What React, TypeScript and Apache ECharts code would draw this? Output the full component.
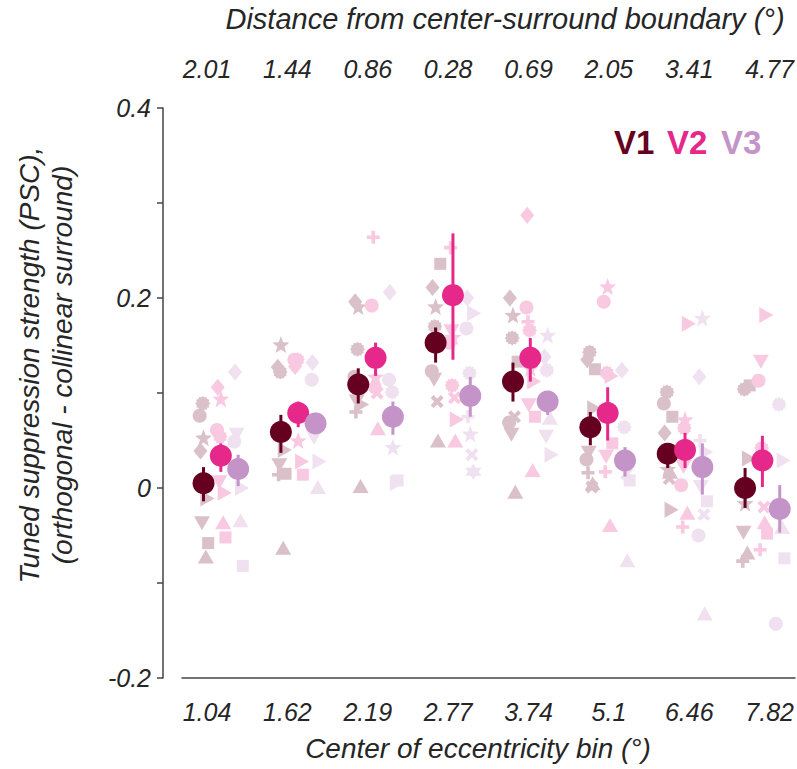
import React, { useEffect, useRef } from "react";
import * as echarts from "echarts";

// ---------- data ----------
const bottomLabels = ["1.04", "1.62", "2.19", "2.77", "3.74", "5.1", "6.46", "7.82"];
const topLabels = ["2.01", "1.44", "0.86", "0.28", "0.69", "2.05", "3.41", "4.77"];
const areaNames = ["V1", "V2", "V3"];

const v1Mean = [0.005, 0.059, 0.109, 0.153, 0.112, 0.064, 0.036, 0.0];
const v1Lo = [-0.014, 0.037, 0.089, 0.132, 0.091, 0.045, 0.021, -0.021];
const v1Hi = [0.022, 0.077, 0.126, 0.169, 0.132, 0.08, 0.047, 0.021];

const v2Mean = [0.034, 0.079, 0.137, 0.203, 0.137, 0.079, 0.04, 0.029];
const v2Lo = [0.017, 0.064, 0.118, 0.135, 0.112, 0.05, 0.021, 0.001];
const v2Hi = [0.047, 0.091, 0.153, 0.268, 0.158, 0.106, 0.058, 0.055];

const v3Mean = [0.02, 0.068, 0.075, 0.097, 0.091, 0.029, 0.022, -0.022];
const v3Lo = [0.002, 0.058, 0.056, 0.075, 0.077, 0.012, -0.007, -0.047];
const v3Hi = [0.035, 0.079, 0.091, 0.117, 0.101, 0.043, 0.047, 0.003];

// individual subjects: [bin, value, subjectSymbol]
// symbols: 0 circle,1 square,2 diamond,3 tri-up,4 tri-down,5 tri-right,6 star,7 hexagram,8 plus,9 x,10 gear
const v1Subjects: [number, number, number][] = [
  [0, 0.076, 0], [0, 0.089, 10], [0, 0.053, 6], [0, 0.039, 2], [0, -0.037, 4], [0, -0.058, 1], [0, -0.072, 3], [0, -0.011, 5],
  [1, 0.151, 6], [1, 0.127, 2], [1, 0.122, 10], [1, 0.04, 5], [1, 0.024, 4], [1, 0.014, 8], [1, 0.015, 1], [1, -0.063, 3],
  [2, 0.196, 2], [2, 0.191, 6], [2, 0.146, 10], [2, 0.117, 0], [2, 0.091, 4], [2, 0.088, 5], [2, 0.08, 8], [2, 0.002, 3],
  [3, 0.236, 1], [3, 0.211, 2], [3, 0.191, 6], [3, 0.17, 10], [3, 0.123, 0], [3, 0.114, 4], [3, 0.091, 9], [3, 0.05, 3],
  [4, 0.2, 2], [4, 0.182, 6], [4, 0.158, 10], [4, 0.133, 1], [4, 0.075, 9], [4, 0.069, 0], [4, 0.056, 4], [4, -0.004, 3],
  [5, 0.143, 10], [5, 0.135, 2], [5, 0.125, 1], [5, 0.084, 5], [5, 0.037, 4], [5, 0.03, 0], [5, 0.016, 8], [5, 0.005, 3], [5, 0.001, 9],
  [6, 0.101, 10], [6, 0.089, 0], [6, 0.075, 1], [6, 0.058, 2], [6, 0.02, 6], [6, 0.017, 3], [6, 0.01, 9], [6, -0.023, 5],
  [7, 0.108, 1], [7, 0.104, 10], [7, 0.031, 5], [7, -0.016, 6], [7, -0.047, 4], [7, -0.068, 3], [7, -0.077, 8],
];
const v2Subjects: [number, number, number][] = [
  [0, 0.106, 2], [0, 0.094, 6], [0, 0.061, 0], [0, 0.054, 10], [0, 0.006, 4], [0, -0.005, 5], [0, -0.036, 3], [0, -0.052, 1],
  [1, 0.135, 10], [1, 0.128, 2], [1, 0.135, 0], [1, 0.05, 6], [1, 0.028, 5], [1, 0.014, 1],
  [2, 0.264, 8], [2, 0.192, 0], [2, 0.117, 6], [2, 0.106, 10], [2, 0.1, 9], [2, 0.063, 3],
  [3, 0.253, 8], [3, 0.165, 4], [3, 0.159, 6], [3, 0.153, 0], [3, 0.108, 10], [3, 0.095, 9], [3, 0.072, 5], [3, 0.05, 3],
  [4, 0.287, 2], [4, 0.19, 0], [4, 0.175, 8], [4, 0.166, 10], [4, 0.126, 6], [4, 0.112, 5], [4, 0.087, 4], [4, 0.075, 1], [4, 0.019, 3],
  [5, 0.212, 6], [5, 0.196, 0], [5, 0.121, 10], [5, 0.118, 5], [5, 0.047, 1], [5, 0.033, 4], [5, 0.017, 8], [5, -0.039, 3],
  [6, 0.173, 5], [6, 0.072, 6], [6, 0.063, 10], [6, 0.022, 4], [6, 0.003, 0], [6, -0.026, 3], [6, -0.041, 8],
  [7, 0.182, 5], [7, 0.133, 4], [7, 0.113, 0], [7, 0.042, 10], [7, -0.02, 9], [7, -0.036, 3], [7, -0.048, 1], [7, -0.065, 8],
];
const v3Subjects: [number, number, number][] = [
  [0, 0.122, 2], [0, 0.056, 4], [0, 0.049, 0], [0, 0.0, 5], [0, -0.034, 3], [0, -0.082, 1],
  [1, 0.132, 2], [1, 0.114, 0], [1, 0.053, 4], [1, 0.028, 5], [1, 0.001, 3],
  [2, 0.206, 2], [2, 0.114, 0], [2, 0.101, 10], [2, 0.043, 6], [2, 0.008, 1], [2, 0.005, 5],
  [3, 0.2, 2], [3, 0.184, 5], [3, 0.168, 0], [3, 0.121, 10], [3, 0.075, 8], [3, 0.057, 6], [3, 0.035, 9], [3, 0.017, 7],
  [4, 0.161, 6], [4, 0.138, 2], [4, 0.124, 10], [4, 0.074, 3], [4, 0.054, 4], [4, 0.035, 5],
  [5, 0.124, 2], [5, 0.064, 10], [5, 0.015, 9], [5, 0.008, 1], [5, -0.076, 3],
  [6, 0.179, 6], [6, 0.117, 2], [6, 0.05, 8], [6, 0.038, 5], [6, 0.001, 4], [6, -0.014, 1], [6, -0.028, 9], [6, -0.05, 0], [6, -0.132, 3],
  [7, 0.088, 10], [7, 0.029, 5], [7, -0.041, 3], [7, -0.074, 1], [7, -0.143, 0],
];

// ---------- styling ----------
const mainColors = ["#650021", "#e5288a", "#c493c8"];
const fadedColors = ["#d9c0c9", "#f8c9e0", "#f0e1f0"];
const areaOffsets = [-0.224, 0, 0.224];
const subjectJitter = [-0.05, 0.06, -0.04, 0.03, -0.02, 0.05, 0.0, 0.04, -0.03, 0.02, -0.01];
const FONT = "'Liberation Sans', Arial, Helvetica, sans-serif";
const TEXT = "#262626";

function starPath(n: number, rOut: number, rIn: number) {
  const pts: string[] = [];
  for (let i = 0; i < n * 2; i++) {
    const r = i % 2 === 0 ? rOut : rIn;
    const a = -Math.PI / 2 + (i * Math.PI) / n;
    pts.push(`${(r * Math.cos(a)).toFixed(3)},${(r * Math.sin(a)).toFixed(3)}`);
  }
  return "path://M" + pts.join("L") + "Z";
}
function crossPath() {
  const base = [[-1.4, -5], [1.4, -5], [1.4, -1.4], [5, -1.4], [5, 1.4], [1.4, 1.4], [1.4, 5], [-1.4, 5], [-1.4, 1.4], [-5, 1.4], [-5, -1.4], [-1.4, -1.4]];
  const c = Math.cos(Math.PI / 4), s = Math.sin(Math.PI / 4);
  const pts = base.map(([x, y]) => `${(x * c - y * s).toFixed(3)},${(x * s + y * c).toFixed(3)}`);
  return "path://M" + pts.join("L") + "Z";
}

const SYMBOLS = [
  "circle",
  "rect",
  "diamond",
  "triangle",
  "path://M0,0L10,0L5,8.66Z",
  "path://M0,0L8.66,5L0,10Z",
  starPath(5, 5, 2.1),
  "path://M5,0L9.33,7.5L0.67,7.5Z M5,10L0.67,2.5L9.33,2.5Z",
  "path://M3.6,0H6.4V3.6H10V6.4H6.4V10H3.6V6.4H0V3.6H3.6Z",
  crossPath(),
  starPath(12, 5, 4.1),
];
const SIZES: any[] = [14, 12, [14, 17], [16, 14], [16, 14], [14, 16], 17, 16, 13, 13, 15];

export default function App() {
  const ref = useRef<HTMLDivElement>(null);
  useEffect(() => {
    if (!ref.current) return;
    const chart = echarts.init(ref.current, null, { renderer: "svg" });
    const subjects = [v1Subjects, v2Subjects, v3Subjects];
    const means = [v1Mean, v2Mean, v3Mean];
    const los = [v1Lo, v2Lo, v3Lo];
    const his = [v1Hi, v2Hi, v3Hi];

    const series: any[] = [];
    subjects.forEach((pts, a) => {
      series.push({
        type: "scatter",
        name: areaNames[a] + " subjects",
        xAxisIndex: 2,
        yAxisIndex: 0,
        z: 2,
        clip: false,
        silent: true,
        itemStyle: { color: fadedColors[a], opacity: 1 },
        data: pts.map(([b, v, s]) => ({
          value: [b + areaOffsets[a] + subjectJitter[s], v],
          symbol: SYMBOLS[s],
          symbolSize: SIZES[s],
        })),
      });
    });
    means.forEach((m, a) => {
      series.push({
        type: "custom",
        name: areaNames[a] + " error",
        xAxisIndex: 2,
        yAxisIndex: 0,
        z: 5 + a * 2,
        clip: false,
        silent: true,
        renderItem: (params: any, api: any) => {
          const x = api.value(0);
          const p1 = api.coord([x, api.value(1)]);
          const p2 = api.coord([x, api.value(2)]);
          return {
            type: "line",
            shape: { x1: p1[0], y1: p1[1], x2: p2[0], y2: p2[1] },
            style: { stroke: mainColors[a], lineWidth: 3 },
          };
        },
        encode: { x: 0, y: [1, 2] },
        data: m.map((_, i) => [i + areaOffsets[a], los[a][i], his[a][i]]),
      });
      series.push({
        type: "scatter",
        name: areaNames[a],
        xAxisIndex: 2,
        yAxisIndex: 0,
        z: 6 + a * 2,
        clip: false,
        silent: true,
        symbol: "circle",
        symbolSize: 22,
        itemStyle: { color: mainColors[a], opacity: 1 },
        data: m.map((v, i) => [i + areaOffsets[a], v]),
      });
    });

    const labelStyle = { fontFamily: FONT, fontStyle: "italic", fontSize: 25, color: TEXT };
    const titleStyle = { fontFamily: FONT, fontStyle: "italic", fontSize: 28, fill: TEXT, textAlign: "center", textVerticalAlign: "middle" };

    chart.setOption({
      animation: false,
      backgroundColor: "#fff",
      grid: [
        { left: 207, right: 22, top: 108, bottom: 91 },
        { left: 182, right: 2, top: 108, bottom: 91 },
      ],
      xAxis: [
        {
          gridIndex: 0, type: "value", position: "bottom", min: 0, max: 7, interval: 1,
          axisLine: { show: false }, axisTick: { show: false }, splitLine: { show: false },
          axisLabel: { ...labelStyle, margin: 21, formatter: (v: number) => bottomLabels[Math.round(v)] ?? "" },
        },
        {
          gridIndex: 0, type: "value", position: "top", min: 0, max: 7, interval: 1,
          axisLine: { show: false }, axisTick: { show: false }, splitLine: { show: false },
          axisLabel: { ...labelStyle, margin: 27, formatter: (v: number) => topLabels[Math.round(v)] ?? "" },
        },
        {
          gridIndex: 0, type: "value", position: "bottom", min: -0.179, max: 7.094, show: false,
        },
        {
          gridIndex: 1, type: "value", position: "bottom", min: 0, max: 1,
          axisLine: { show: true, onZero: false, lineStyle: { color: "#444", width: 1.5 } },
          axisTick: { show: false }, axisLabel: { show: false }, splitLine: { show: false },
        },
      ],
      yAxis: [
        {
          gridIndex: 0, type: "value", min: -0.2, max: 0.4, interval: 0.1, offset: 44,
          axisLine: { show: true, onZero: false, lineStyle: { color: "#444", width: 1.5 } },
          axisTick: { show: true, length: 6, lineStyle: { color: "#444", width: 1.5 } },
          splitLine: { show: false },
          axisLabel: {
            ...labelStyle, margin: 12,
            formatter: (v: number) => {
              const r = Math.round(v * 10);
              if (r % 2 !== 0) return "";
              return r === 0 ? "0" : (r / 10).toFixed(1);
            },
          },
        },
        { gridIndex: 1, type: "value", min: 0, max: 1, show: false },
      ],
      graphic: [
        { type: "text", x: 505, y: 19, style: { ...titleStyle, fontSize: 29, text: "Distance from center-surround boundary (°)" } },
        { type: "text", x: 478, y: 748, style: { ...titleStyle, text: "Center of eccentricity bin (°)" } },
        {
          type: "text", x: 46, y: 365, rotation: Math.PI / 2,
          style: { ...titleStyle, lineHeight: 33, text: "Tuned suppression strength (PSC),\n(orthogonal - collinear surround)" },
        },
        { type: "text", x: 614, y: 142, style: { text: "V1", fill: mainColors[0], fontFamily: FONT, fontSize: 33, fontWeight: "bold", textVerticalAlign: "middle" } },
        { type: "text", x: 667, y: 142, style: { text: "V2", fill: mainColors[1], fontFamily: FONT, fontSize: 33, fontWeight: "bold", textVerticalAlign: "middle" } },
        { type: "text", x: 721, y: 142, style: { text: "V3", fill: mainColors[2], fontFamily: FONT, fontSize: 33, fontWeight: "bold", textVerticalAlign: "middle" } },
      ],
      series,
    });
    return () => chart.dispose();
  }, []);
  return <div ref={ref} style={{ width: 797, height: 769, position: "absolute", left: 0, top: 0 }} />;
}
